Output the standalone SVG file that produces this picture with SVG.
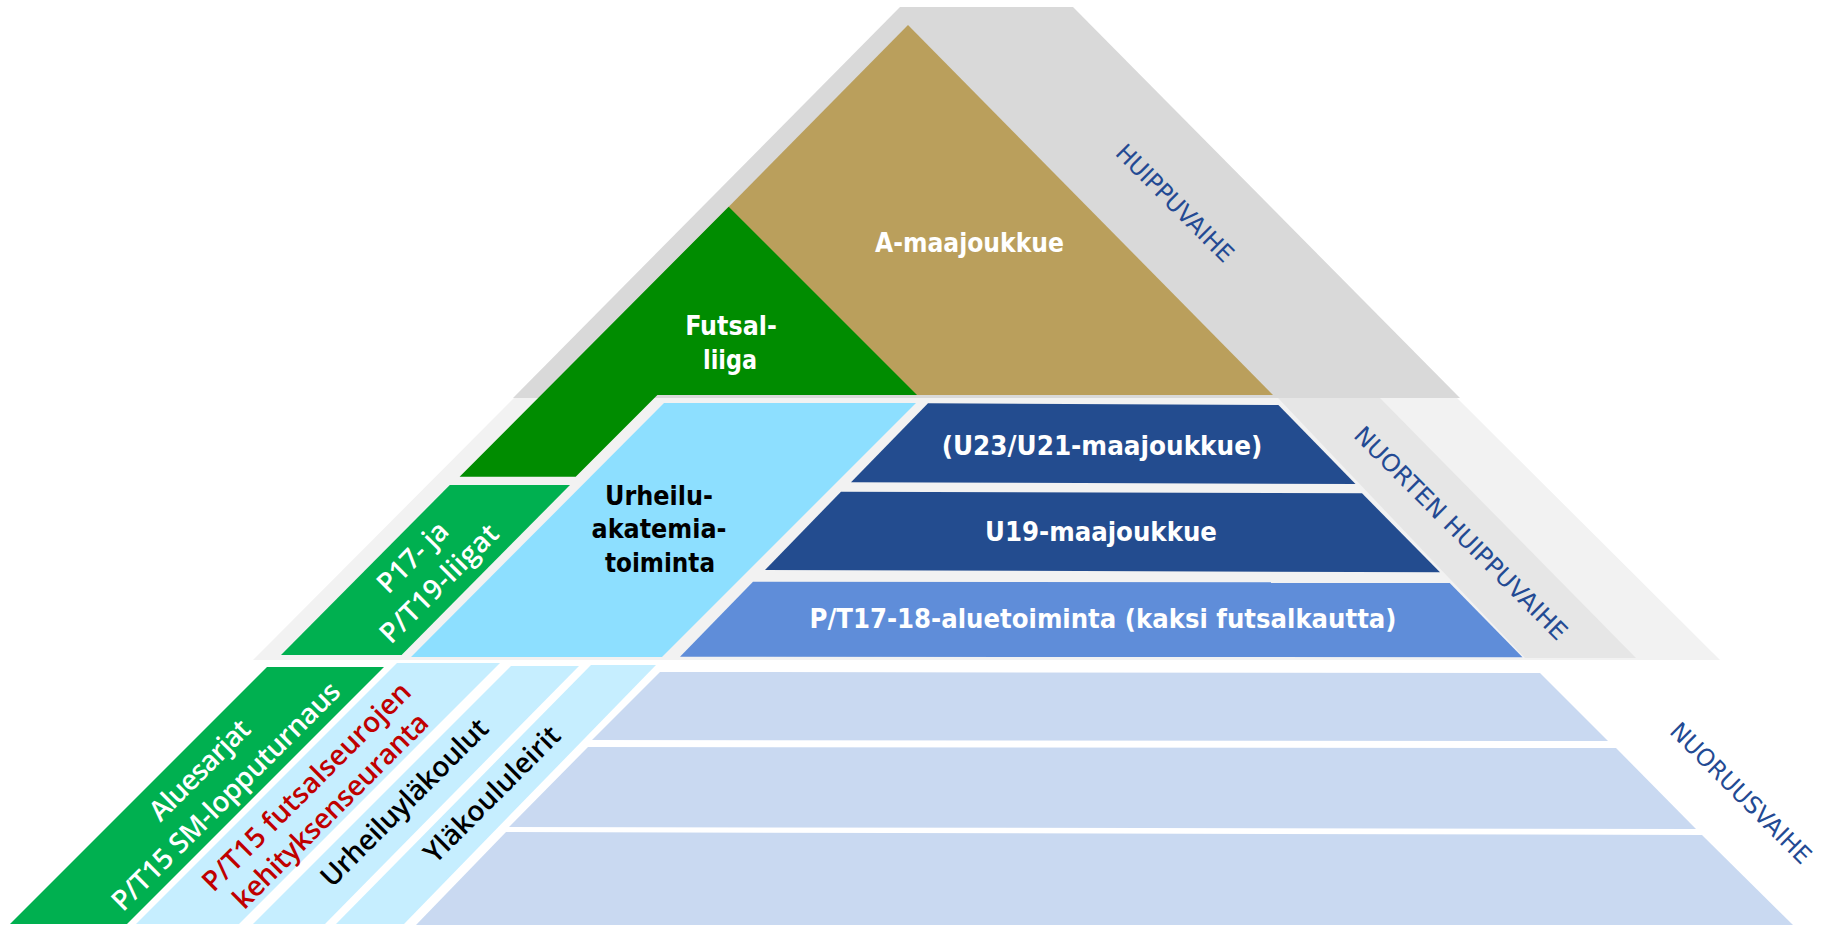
<svg xmlns="http://www.w3.org/2000/svg" width="1821" height="926" viewBox="0 0 1821 926">
<style>
.hb{font-family:"DejaVu Sans Condensed","DejaVu Sans",sans-serif;font-weight:bold;font-size:27px;text-anchor:middle}
.w{fill:#FFFFFF}
.k{fill:#000000}
.rt{font-family:"Open Sans","Noto Sans",sans-serif;font-weight:600;font-size:28px;text-anchor:middle}
.lab{font-family:"DejaVu Sans Condensed","DejaVu Sans",sans-serif;font-size:24px;fill:#234A93;text-anchor:middle}
.red{fill:#C00000}
</style>
<rect x="0" y="0" width="1821" height="926" fill="#FFFFFF"/>
<g id="bands">
<polygon points="900,7 1073,7 1460,398 513,398" fill="#D9D9D9"/>
<polygon points="514,398 1457,398 1720,660 253,660" fill="#F2F2F2"/>
<polygon points="1278,398 1380,398 1636,658 1525,658" fill="#E6E6E6"/>
</g>
<g id="a-maajoukkue">
<polygon points="908,25 1273,395 543,395" fill="#BA9F5C"/>
<text class="hb w" x="969.5" y="251.7" textLength="189" lengthAdjust="spacingAndGlyphs">A-maajoukkue</text>
</g>
<g id="futsal-liiga">
<polygon points="728.7,206.7 917,395 657.4,395 575.7,476.7 459.6,476.7" fill="#008C00"/>
<text class="hb w" x="731" y="335" textLength="91.7" lengthAdjust="spacingAndGlyphs">Futsal-</text>
<text class="hb w" x="730" y="369" textLength="54" lengthAdjust="spacingAndGlyphs">liiga</text>
</g>
<g id="p17-liigat">
<polygon points="449.8,485 570,485 401.6,655 281,655" fill="#00B050"/>
<g transform="translate(425.5,570) rotate(-45)">
<text class="rt w" x="0" y="-8.7" textLength="88">P17- ja</text>
<text class="rt w" x="0" y="28.7" textLength="155">P/T19-liigat</text>
</g>
</g>
<g id="urheiluakatemia">
<polygon points="664,403 916,403 662,657 411,657" fill="#8DDFFF"/>
<text class="hb k" x="659" y="505" textLength="108" lengthAdjust="spacingAndGlyphs">Urheilu-</text>
<text class="hb k" x="659" y="538.3" textLength="135" lengthAdjust="spacingAndGlyphs">akatemia-</text>
<text class="hb k" x="660" y="571.7" textLength="110" lengthAdjust="spacingAndGlyphs">toiminta</text>
</g>
<g id="u23">
<polygon points="928,403.3 1278.4,405 1355.5,484 851,482.3" fill="#234C8F"/>
<text class="hb w" x="1102" y="455" textLength="320.6" lengthAdjust="spacingAndGlyphs">(U23/U21-maajoukkue)</text>
</g>
<g id="u19">
<polygon points="841,491.7 1362,493.3 1440,572.3 765,570" fill="#234C8F"/>
<text class="hb w" x="1101" y="541" textLength="232" lengthAdjust="spacingAndGlyphs">U19-maajoukkue</text>
</g>
<g id="pt17">
<polygon points="753,581.7 1449,582.3 1522.5,657.3 680,656.7" fill="#5F8DD9"/>
<text class="hb w" x="1103" y="628.3" textLength="587" lengthAdjust="spacingAndGlyphs">P/T17-18-aluetoiminta (kaksi futsalkautta)</text>
</g>
<g id="aluesarjat">
<polygon points="267,667 384,667 127,924 10,924" fill="#00B050"/>
<g transform="translate(212.4,782.8) rotate(-45)">
<text class="rt w" x="0" y="-8.5" textLength="130">Aluesarjat</text>
<text class="rt w" x="0" y="28.5" textLength="310">P/T15 SM-lopputurnaus</text>
</g>
</g>
<g id="kehitysseuranta">
<polygon points="397,663 500,663 239,924 136,924" fill="#C6EEFF"/>
<g transform="translate(318.2,798.3) rotate(-45)">
<text class="rt red" x="0" y="-7" textLength="282">P/T15 futsalseurojen</text>
<text class="rt red" x="0" y="27" textLength="263">kehityksenseuranta</text>
</g>
</g>
<g id="urheiluylakoulut">
<polygon points="511,666 579,666 325,924 253,924" fill="#C6EEFF"/>
<text class="rt k" transform="translate(404,802.3) rotate(-45)" x="0" y="10" textLength="224">Urheiluyläkoulut</text>
</g>
<g id="ylakoululeirit">
<polygon points="591,665 656,665 404,924 336,924" fill="#C6EEFF"/>
<text class="rt k" transform="translate(491.7,794) rotate(-45)" x="0" y="10" textLength="180">Yläkoululeirit</text>
</g>
<g id="box1"><polygon points="660,672 1540,673 1608,741 592,740" fill="#C9D9F1"/></g>
<g id="box2"><polygon points="588,747 1616,748 1696,829 509,827" fill="#C9D9F1"/></g>
<g id="box3"><polygon points="506,832 1702,835 1793,925 416,925" fill="#C9D9F1"/></g>
<g id="labels">
<text class="lab" transform="translate(1175,203) rotate(45)" x="0" y="8.5" textLength="155" lengthAdjust="spacingAndGlyphs">HUIPPUVAIHE</text>
<text class="lab" transform="translate(1461,533) rotate(45)" x="0" y="8.5" textLength="290" lengthAdjust="spacingAndGlyphs">NUORTEN HUIPPUVAIHE</text>
<text class="lab" transform="translate(1741,793) rotate(45)" x="0" y="8.5" textLength="188" lengthAdjust="spacingAndGlyphs">NUORUUSVAIHE</text>
</g>
<g id="connectors"></g>
</svg>
